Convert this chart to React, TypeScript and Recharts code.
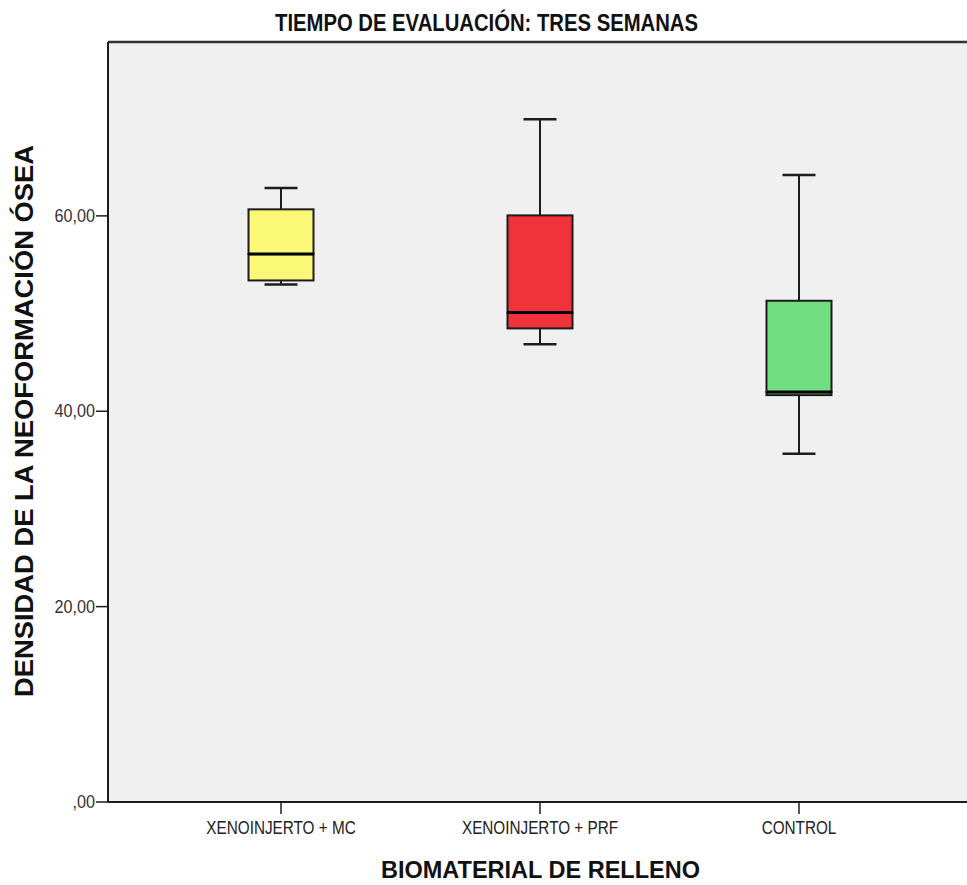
import React from 'react';
import { ComposedChart, Bar, XAxis, YAxis, CartesianGrid, ReferenceLine } from 'recharts';

// box plot values
const categories = ['XENOINJERTO + MC', 'XENOINJERTO + PRF', 'CONTROL'];
const minValues = [52.98, 46.87, 35.64];
const q1Values = [53.39, 48.48, 41.65];
const medianValues = [56.09, 50.12, 41.96];
const q3Values = [60.67, 60.05, 51.31];
const maxValues = [62.85, 69.88, 64.18];
const yTicks = [0, 20, 40, 60];
const yMax = 77.8;

const boxColors = ['#FCF877', '#F0323A', '#72DE82'];

const SANS = "'Liberation Sans', Arial, sans-serif";
const INK = '#1c1c1c';
const CAP = 33;

const data = categories.map((name, i) => ({
    name,
    base: minValues[i],
    lowerWhisker: q1Values[i] - minValues[i],
    lowerBox: medianValues[i] - q1Values[i],
    upperBox: q3Values[i] - medianValues[i],
    upperWhisker: maxValues[i] - q3Values[i],
    color: boxColors[i],
}));

const fmt = (v: number) => (v === 0 ? ',00' : v.toFixed(2).replace('.', ','));

const Empty = () => <g />;

const LowerWhisker = ({ x, y, width, height }: any) => {
    const cx = x + width / 2;
    return (
        <g>
            <line x1={cx} x2={cx} y1={y} y2={y + height} stroke={INK} strokeWidth={2} />
            <line x1={cx - CAP / 2} x2={cx + CAP / 2} y1={y + height} y2={y + height} stroke={INK} strokeWidth={2.5} />
        </g>
    );
};

const UpperWhisker = ({ x, y, width, height }: any) => {
    const cx = x + width / 2;
    return (
        <g>
            <line x1={cx} x2={cx} y1={y} y2={y + height} stroke={INK} strokeWidth={2} />
            <line x1={cx - CAP / 2} x2={cx + CAP / 2} y1={y} y2={y} stroke={INK} strokeWidth={2.5} />
        </g>
    );
};

const LowerBox = ({ x, y, width, height, payload }: any) => (
    <rect x={x} y={y} width={width} height={height} fill={payload.color} stroke={INK} strokeWidth={2} />
);

const UpperBox = ({ x, y, width, height, payload }: any) => (
    <g>
        <rect x={x} y={y} width={width} height={height} fill={payload.color} stroke={INK} strokeWidth={2} />
        <line x1={x} x2={x + width} y1={y + height} y2={y + height} stroke="#000" strokeWidth={3} />
    </g>
);

// narrow look: squeeze Liberation Sans horizontally
const YTick = ({ x, y, payload }: any) => (
    <g transform={`translate(${x},${y + 6}) scale(0.9,1)`}>
        <text x={0} y={0} textAnchor="end" fontSize={18} fill="#333" fontFamily={SANS}>
            {fmt(payload.value)}
        </text>
    </g>
);

const XTick = ({ x, y, payload }: any) => (
    <g transform={`translate(${x},${y + 13}) scale(0.85,1)`}>
        <text x={0} y={0} textAnchor="middle" fontSize={18} fill="#222" fontFamily={SANS}>
            {payload.value}
        </text>
    </g>
);

export default function App() {
    return (
        <div style={{ position: 'absolute', left: 0, top: 0, width: 967, height: 885, overflow: 'hidden', background: '#fff' }}>
            <ComposedChart width={980} height={885} data={data} margin={{ top: 42, right: 8, bottom: 0, left: 0 }}>
                <CartesianGrid horizontal={false} vertical={false} fill="#F0F0F0" />
                <XAxis
                    dataKey="name"
                    type="category"
                    height={83}
                    padding={{ left: 43.5, right: 43.5 }}
                    axisLine={{ stroke: INK, strokeWidth: 2 }}
                    tickLine={{ stroke: INK, strokeWidth: 1.5 }}
                    tickSize={12}
                    tickMargin={7}
                    tick={<XTick />}
                />
                <YAxis
                    width={108}
                    domain={[0, yMax]}
                    ticks={yTicks}
                    allowDataOverflow
                    axisLine={{ stroke: INK, strokeWidth: 2 }}
                    tickLine={{ stroke: INK, strokeWidth: 1.5 }}
                    tickSize={12}
                    tickMargin={1}
                    tick={<YTick />}
                />
                <ReferenceLine y={yMax} stroke="#333" strokeWidth={2.5} />
                <Bar dataKey="base" stackId="box" barSize={65} shape={<Empty />} isAnimationActive={false} />
                <Bar dataKey="lowerWhisker" stackId="box" barSize={65} shape={<LowerWhisker />} isAnimationActive={false} />
                <Bar dataKey="lowerBox" stackId="box" barSize={65} shape={<LowerBox />} isAnimationActive={false} />
                <Bar dataKey="upperBox" stackId="box" barSize={65} shape={<UpperBox />} isAnimationActive={false} />
                <Bar dataKey="upperWhisker" stackId="box" barSize={65} shape={<UpperWhisker />} isAnimationActive={false} />
            </ComposedChart>
            <svg width={967} height={885} style={{ position: 'absolute', left: 0, top: 0, pointerEvents: 'none' }}>
                <text
                    x={486.5}
                    y={31}
                    textAnchor="middle"
                    fontSize={24}
                    fontWeight="bold"
                    fontFamily={SANS}
                    fill="#111"
                    textLength={423}
                    lengthAdjust="spacingAndGlyphs"
                >
                    TIEMPO DE EVALUACIÓN: TRES SEMANAS
                </text>
                <text
                    x={540.5}
                    y={878}
                    textAnchor="middle"
                    fontSize={23}
                    fontWeight="bold"
                    fontFamily={SANS}
                    fill="#111"
                    textLength={319}
                    lengthAdjust="spacingAndGlyphs"
                >
                    BIOMATERIAL DE RELLENO
                </text>
                <text
                    x={0}
                    y={0}
                    transform="translate(33,421) rotate(-90)"
                    textAnchor="middle"
                    fontSize={25}
                    fontWeight="bold"
                    fontFamily={SANS}
                    fill="#111"
                    textLength={552}
                    lengthAdjust="spacingAndGlyphs"
                >
                    DENSIDAD DE LA NEOFORMACIÓN ÓSEA
                </text>
            </svg>
        </div>
    );
}
